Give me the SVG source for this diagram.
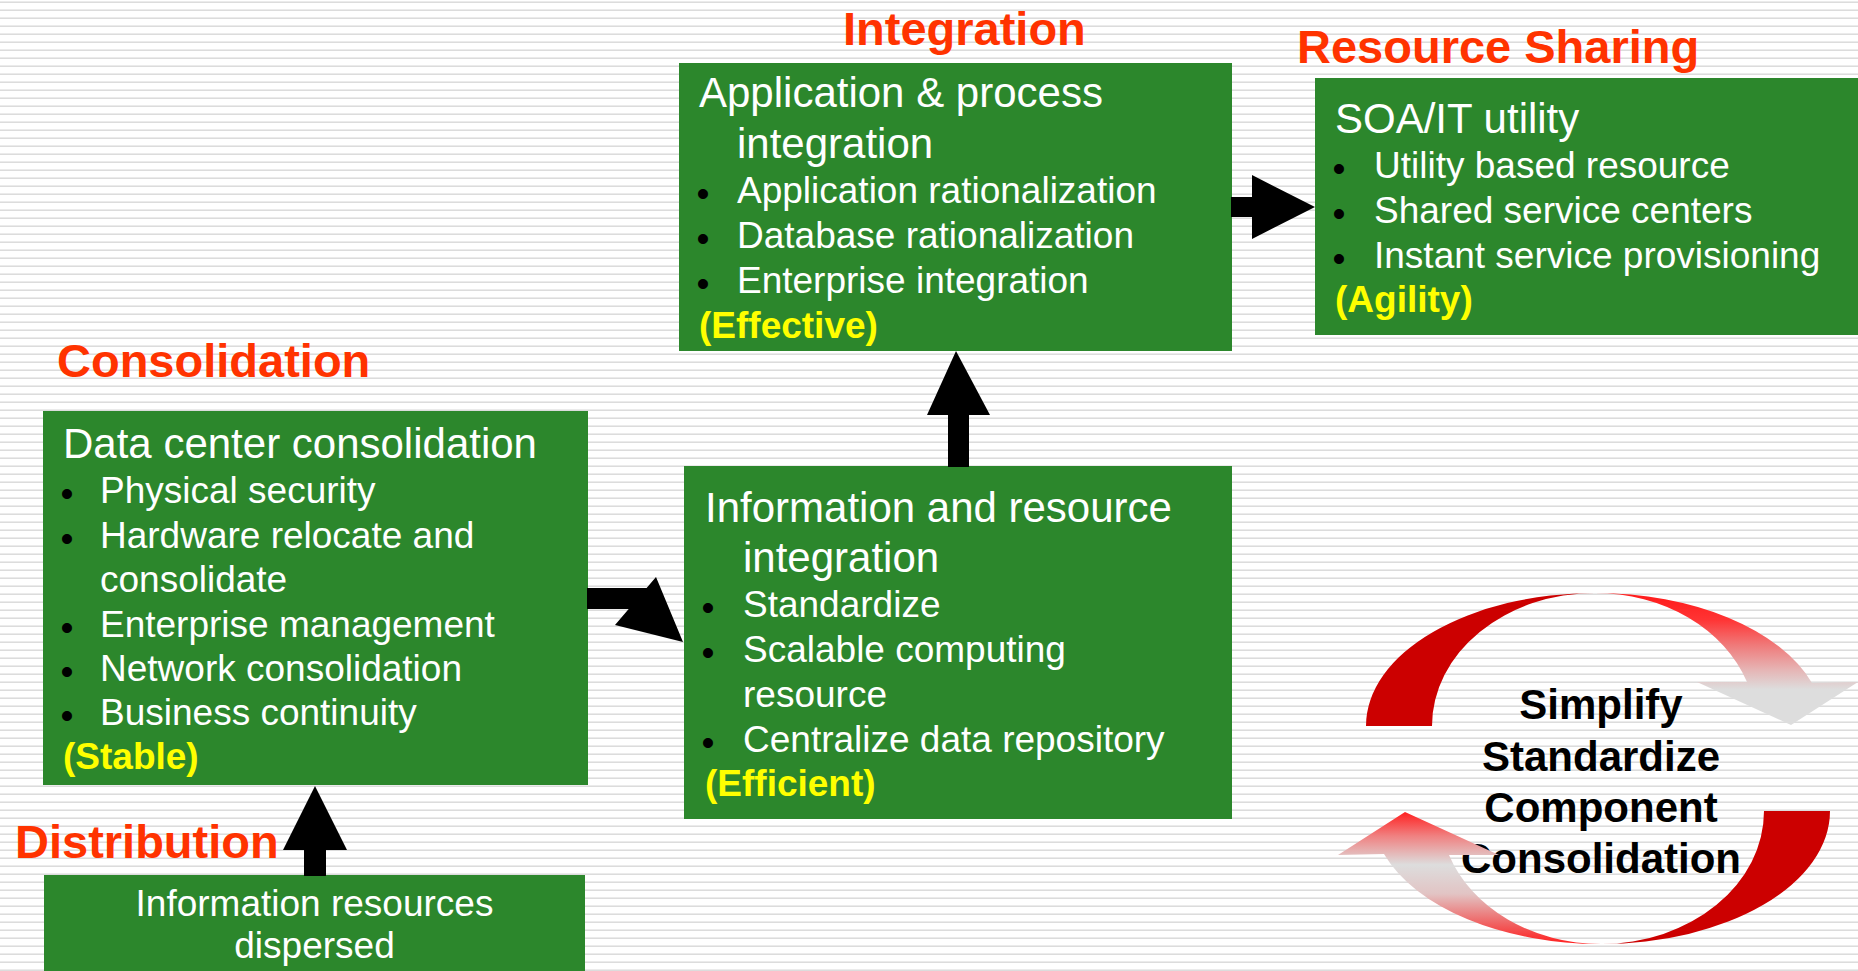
<svg xmlns="http://www.w3.org/2000/svg" width="1858" height="971" viewBox="0 0 1858 971">
<defs>
<pattern id="bg" width="8" height="8" patternUnits="userSpaceOnUse">
<rect width="8" height="8" fill="#ffffff"/>
<rect y="1" width="8" height="1" fill="#ebebeb"/>
<rect y="2" width="8" height="1" fill="#dcdcdc"/>
</pattern>
<linearGradient id="gTop" gradientUnits="userSpaceOnUse" x1="0" y1="593" x2="0" y2="725">
<stop offset="0" stop-color="#ff1a1a"/>
<stop offset="0.2" stop-color="#ff3333"/>
<stop offset="0.39" stop-color="#f07878"/>
<stop offset="0.58" stop-color="#e6b4b4"/>
<stop offset="0.73" stop-color="#dddddd"/>
<stop offset="1" stop-color="#dddddd"/>
</linearGradient>
<linearGradient id="gBot" gradientUnits="userSpaceOnUse" x1="0" y1="812" x2="0" y2="944">
<stop offset="0" stop-color="#ff2020"/>
<stop offset="0.18" stop-color="#f08080"/>
<stop offset="0.4" stop-color="#dddddd"/>
<stop offset="0.62" stop-color="#e2c4c4"/>
<stop offset="0.85" stop-color="#f06060"/>
<stop offset="1" stop-color="#ff2020"/>
</linearGradient>
</defs>
<style>
.box{fill:#2c872c}
.h{font-family:"Liberation Sans",Arial,sans-serif;font-size:42px;fill:#ffffff}
.b{font-family:"Liberation Sans",Arial,sans-serif;font-size:37px;fill:#ffffff}
.d{font-family:"Liberation Sans",Arial,sans-serif;font-size:37px;fill:#000000;text-anchor:middle}
.y{font-family:"Liberation Sans",Arial,sans-serif;font-size:37px;font-weight:bold;fill:#ffff00}
.t{font-family:"Liberation Sans",Arial,sans-serif;font-size:47px;font-weight:bold;fill:#ff3300}
.c{font-family:"Liberation Sans",Arial,sans-serif;font-size:42px;font-weight:bold;fill:#000000;text-anchor:middle}
.arr{fill:#000000}
</style>
<rect width="1858" height="971" fill="url(#bg)"/>

<g id="node-integration">
<text class="t" x="843" y="45">Integration</text>
<rect class="box" x="679" y="63" width="553" height="288"/>
<text class="h" x="699" y="107">Application &amp; process</text>
<text class="h" x="737" y="158">integration</text>
<text class="d" x="703" y="206">•</text>
<text class="b" x="737" y="203">Application rationalization</text>
<text class="d" x="703" y="251">•</text>
<text class="b" x="737" y="248">Database rationalization</text>
<text class="d" x="703" y="296">•</text>
<text class="b" x="737" y="293">Enterprise integration</text>
<text class="y" x="699" y="338">(Effective)</text>
</g>

<g id="node-resource-sharing">
<text class="t" x="1297" y="63">Resource Sharing</text>
<rect class="box" x="1315" y="78" width="543" height="257"/>
<text class="h" x="1335" y="133">SOA/IT utility</text>
<text class="d" x="1339" y="181">•</text>
<text class="b" x="1374" y="178">Utility based resource</text>
<text class="d" x="1339" y="226">•</text>
<text class="b" x="1374" y="223">Shared service centers</text>
<text class="d" x="1339" y="271">•</text>
<text class="b" x="1374" y="268">Instant service provisioning</text>
<text class="y" x="1335" y="312">(Agility)</text>
</g>

<g id="node-consolidation">
<text class="t" x="57" y="377">Consolidation</text>
<rect class="box" x="43" y="411" width="545" height="374"/>
<text class="h" x="63" y="458">Data center consolidation</text>
<text class="d" x="67" y="506">•</text>
<text class="b" x="100" y="503">Physical security</text>
<text class="d" x="67" y="551">•</text>
<text class="b" x="100" y="548">Hardware relocate and</text>
<text class="b" x="100" y="592">consolidate</text>
<text class="d" x="67" y="640">•</text>
<text class="b" x="100" y="637">Enterprise management</text>
<text class="d" x="67" y="684">•</text>
<text class="b" x="100" y="681">Network consolidation</text>
<text class="d" x="67" y="728">•</text>
<text class="b" x="100" y="725">Business continuity</text>
<text class="y" x="63" y="769">(Stable)</text>
</g>

<g id="node-information-integration">
<rect class="box" x="684" y="466" width="548" height="353"/>
<text class="h" x="705" y="522">Information and resource</text>
<text class="h" x="743" y="572">integration</text>
<text class="d" x="708" y="620">•</text>
<text class="b" x="743" y="617">Standardize</text>
<text class="d" x="708" y="665">•</text>
<text class="b" x="743" y="662">Scalable computing</text>
<text class="b" x="743" y="707">resource</text>
<text class="d" x="708" y="755">•</text>
<text class="b" x="743" y="752">Centralize data repository</text>
<text class="y" x="705" y="796">(Efficient)</text>
</g>

<g id="node-distribution">
<text class="t" x="15" y="858">Distribution</text>
<rect class="box" x="44" y="875" width="541" height="100"/>
<text class="b" x="314.5" y="916" text-anchor="middle">Information resources</text>
<text class="b" x="314.5" y="958" text-anchor="middle">dispersed</text>
</g>

<g id="connectors">
<polygon class="arr" points="304,876 304,850 283,850 315,786 347,850 326,850 326,876"/>
<polygon class="arr" points="948,467 948,415 927,415 956,351 990,415 969,415 969,467"/>
<polygon class="arr" points="1231,197 1252,197 1252,175 1315,207 1252,239 1252,217 1231,217"/>
<polygon class="arr" points="587,588 646.6,588 656,577 683,642 615,625 628.7,609 587,609"/>
</g>

<g id="cycle">
<text class="c" x="1601" y="719">Simplify</text>
<text class="c" x="1601" y="771">Standardize</text>
<text class="c" x="1601" y="822">Component</text>
<text class="c" x="1601" y="873">Consolidation</text>
<path d="M1366,726 A229,133 0 0,1 1595,593 A163,133 0 0,0 1432,726 Z" fill="#cc0000"/>
<path d="M1595,593 A229,133 0 0,1 1812,683 L1858,682 L1791,725 L1697,682 L1747,682 A161,133 0 0,0 1595,593 Z" fill="url(#gTop)"/>
<path d="M1830,811 A229,133 0 0,1 1601,944 A163,133 0 0,0 1764,811 Z" fill="#cc0000"/>
<path d="M1601,944 A229,133 0 0,1 1384,854 L1338,855 L1405,812 L1499,855 L1449,855 A161,133 0 0,0 1601,944 Z" fill="url(#gBot)"/>
</g>
</svg>
